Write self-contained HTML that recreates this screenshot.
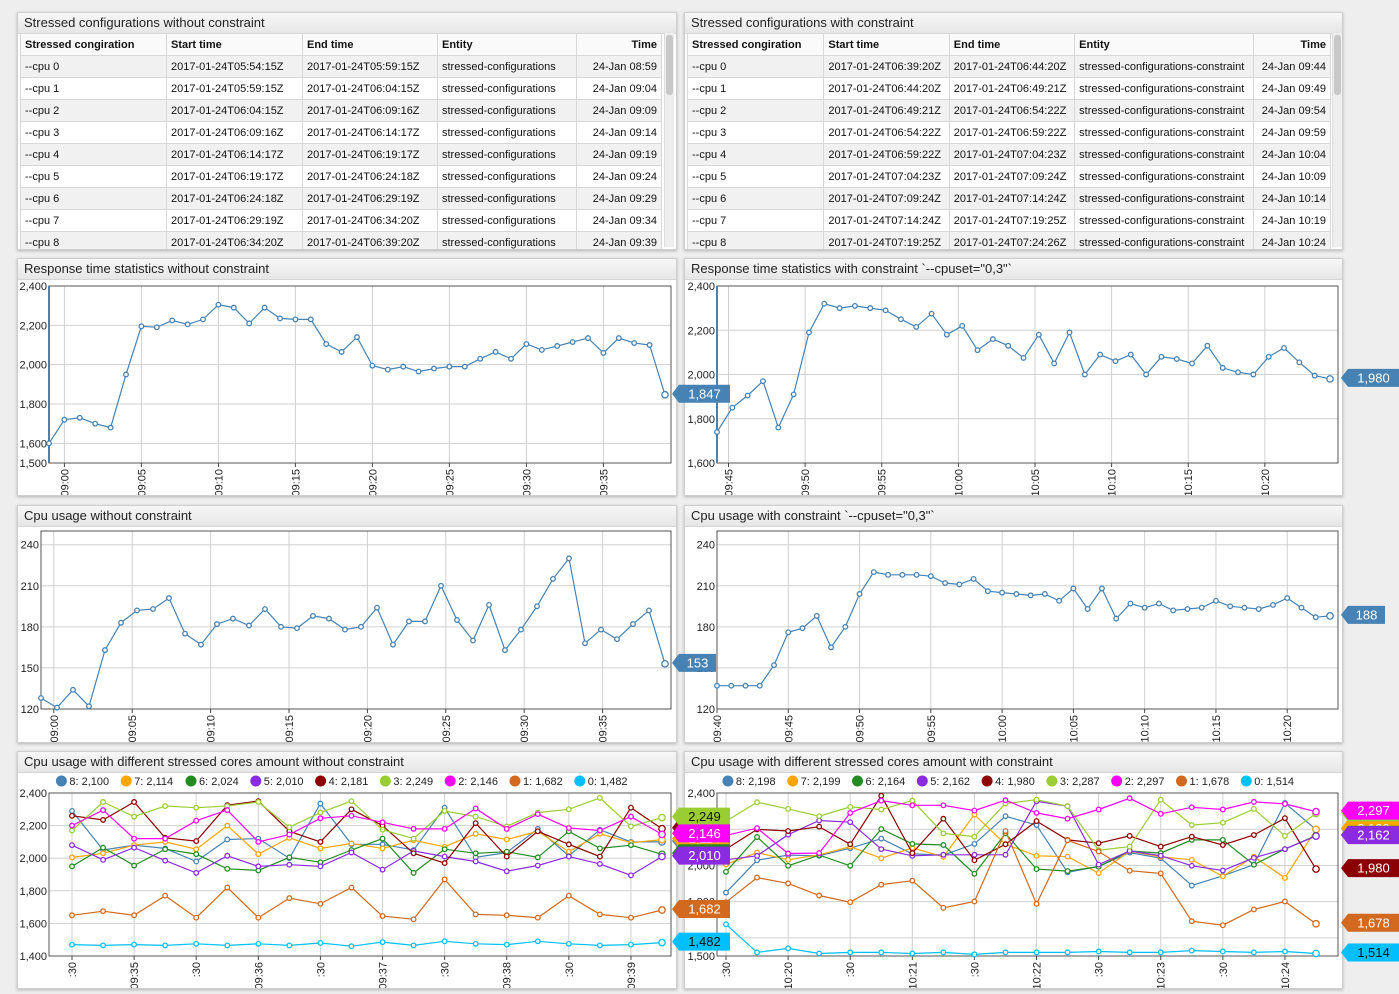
<!DOCTYPE html>
<html><head><meta charset="utf-8">
<style>
body{margin:0;width:1399px;height:994px;background:#eeeeee;font-family:"Liberation Sans",sans-serif;position:relative;overflow:hidden}
.panel{position:absolute;background:#fff;border:1px solid #cfcfcf;box-shadow:0 1px 3px rgba(0,0,0,.25);overflow:hidden}
.ttl{height:20px;line-height:20px;padding-left:6px;font-size:13px;color:#222;background:linear-gradient(#f7f7f7,#e6e6e6);border-bottom:1px solid #d5d5d5}
table{position:absolute;left:2px;top:20px;border-collapse:collapse;font-size:11px;color:#111}
td,th{height:21px;padding:0 4px;border:1px solid #d8d8d8;white-space:nowrap;text-align:left}
th{font-weight:bold;background:#fafafa}
tr:nth-child(even) td{background:#f1f1f1}
.r{text-align:right}
.sb{position:absolute;top:20px;width:9px;bottom:2px;background:#eee;border-left:1px solid #ddd}
.sb div{position:absolute;left:1px;right:1px;top:2px;height:60px;background:#c8c8c8;border-radius:3px}
svg text{font-family:"Liberation Sans",sans-serif}
</style></head><body>

<div class="panel" style="left:17px;top:12px;width:658px;height:236px">
<div class="ttl">Stressed configurations without constraint</div>
<table id="tL" style="width:642px"></table>
<div class="sb" style="left:646px"><div></div></div>
</div>
<div class="panel" style="left:684px;top:12px;width:657px;height:236px">
<div class="ttl">Stressed configurations with constraint</div>
<table id="tR" style="width:644px"></table>
<div class="sb" style="left:647px"><div></div></div>
</div>

<div class="panel" style="left:17px;top:258px;width:658px;height:236px"><div class="ttl">Response time statistics without constraint</div><svg id="c1" width="658" height="236" style="position:absolute;left:0;top:0"></svg></div>
<div class="panel" style="left:684px;top:258px;width:657px;height:236px"><div class="ttl">Response time statistics with constraint `--cpuset="0,3"`</div><svg id="c2" width="657" height="236" style="position:absolute;left:0;top:0"></svg></div>
<div class="panel" style="left:17px;top:505px;width:658px;height:236px"><div class="ttl">Cpu usage without constraint</div><svg id="c3" width="658" height="236" style="position:absolute;left:0;top:0"></svg></div>
<div class="panel" style="left:684px;top:505px;width:657px;height:236px"><div class="ttl">Cpu usage with constraint `--cpuset="0,3"`</div><svg id="c4" width="657" height="236" style="position:absolute;left:0;top:0"></svg></div>
<div class="panel" style="left:17px;top:751px;width:658px;height:236px"><div class="ttl">Cpu usage with different stressed cores amount without constraint</div><svg id="c5" width="658" height="236" style="position:absolute;left:0;top:0"></svg></div>
<div class="panel" style="left:684px;top:751px;width:657px;height:236px"><div class="ttl">Cpu usage with different stressed cores amount with constraint</div><svg id="c6" width="657" height="236" style="position:absolute;left:0;top:0"></svg></div>

<svg id="ov" width="1399" height="994" style="position:absolute;left:0;top:0;pointer-events:none"></svg>

<script>
// ---- table data ----
const cpusL = ["--cpu 0","--cpu 1","--cpu 2","--cpu 3","--cpu 4","--cpu 5","--cpu 6","--cpu 7","--cpu 8"];
const startL = ["05:54:15","05:59:15","06:04:15","06:09:16","06:14:17","06:19:17","06:24:18","06:29:19","06:34:20"];
const endL = ["05:59:15","06:04:15","06:09:16","06:14:17","06:19:17","06:24:18","06:29:19","06:34:20","06:39:20"];
const timeL = ["08:59","09:04","09:09","09:14","09:19","09:24","09:29","09:34","09:39"];
const startR = ["06:39:20","06:44:20","06:49:21","06:54:22","06:59:22","07:04:23","07:09:24","07:14:24","07:19:25"];
const endR = ["06:44:20","06:49:21","06:54:22","06:59:22","07:04:23","07:09:24","07:14:24","07:19:25","07:24:26"];
const timeR = ["09:44","09:49","09:54","09:59","10:04","10:09","10:14","10:19","10:24"];

// ---- response time ----
const respNoVals = [1600,1720,1730,1700,1680,1950,2195,2190,2225,2205,2230,2305,2290,2210,2290,2235,2230,2230,2105,2065,2140,1995,1975,1990,1965,1980,1990,1990,2030,2065,2030,2105,2075,2095,2115,2135,2060,2135,2110,2100,1847];
const respNoTicks = ["09:00","09:05","09:10","09:15","09:20","09:25","09:30","09:35"];
const respNoTickIdx = [1,6,11,16,21,26,31,36];
const respCVals = [1740,1850,1905,1970,1760,1910,2190,2320,2300,2310,2300,2290,2250,2215,2275,2180,2220,2110,2160,2130,2075,2180,2050,2190,2000,2090,2060,2090,2000,2080,2070,2050,2130,2030,2010,2000,2080,2120,2055,1995,1980];
const respCTicks = ["09:45","09:50","09:55","10:00","10:05","10:10","10:15","10:20"];
const respCTickIdx = [0.75,5.75,10.75,15.75,20.75,25.75,30.75,35.75];

// ---- cpu ----
const cpuNoVals = [128,121,134,122,163,183,192,193,201,175,167,182,186,181,193,180,179,188,186,178,180,194,167,184,184,210,185,170,196,163,178,195,215,230,168,178,171,182,192,153];
const cpuNoTicks = ["09:00","09:05","09:10","09:15","09:20","09:25","09:30","09:35"];
const cpuNoTickIdx = [0.8,5.7,10.6,15.5,20.4,25.3,30.2,35.1];
const cpuCVals = [137,137,137,137,152,176,179,188,165,180,204,220,218,218,218,217,212,211,215,206,205,204,203,204,199,208,193,208,186,197,194,197,192,193,194,199,195,194,193,196,201,194,187,188];
const cpuCTicks = ["09:40","09:45","09:50","09:55","10:00","10:05","10:10","10:15","10:20"];
const cpuCTickIdx = [0,5,10,15,20,25,30,35,40];

// ---- cores (without constraint) ----
const coreNames = ["8","7","6","5","4","3","2","1","0"];
const coreColors = ["#4682b4","#ffa500","#228b22","#8a2be2","#8b0000","#9acd32","#ff00ff","#d2691e","#00bfff"];
const coresNo8 = [2290,2050,2080,2060,1980,2115,2120,2000,2335,2085,2085,2050,2310,2005,2035,2180,2015,2175,2100,2100];
const coresNo7 = [2005,2030,2080,2100,2055,2200,2025,2125,2060,2090,2060,2110,2070,2150,2115,2165,2040,2150,2095,2114];
const coresNo6 = [1950,2065,1955,2055,2025,1935,1925,2005,1975,2050,2120,1910,2055,2030,2040,2005,2165,2060,2080,2024];
const coresNo5 = [2080,1990,2065,1985,1910,2015,1950,1960,1950,2035,1930,2045,2010,1980,1920,1955,2010,1965,1895,2010];
const coresNo4 = [2260,2235,2345,2125,2105,2325,2350,2165,2100,2300,2200,2030,1970,2215,2010,2165,2085,2010,2310,2181];
const coresNo3 = [2170,2345,2255,2320,2310,2320,2345,2190,2280,2350,2175,2120,2290,2255,2195,2280,2300,2370,2195,2249];
const coresNo2 = [2200,2295,2120,2120,2230,2295,2100,2145,2245,2260,2220,2180,2180,2305,2180,2270,2185,2170,2255,2146];
const coresNo1 = [1650,1675,1650,1770,1635,1820,1635,1755,1720,1820,1645,1625,1870,1655,1650,1635,1770,1655,1635,1682];
const coresNo0 = [1470,1465,1470,1465,1475,1465,1475,1465,1480,1460,1485,1465,1490,1475,1470,1490,1475,1465,1470,1482];
const coresNoTicks = [":30","09:35",":30","09:36",":30","09:37",":30","09:38",":30","09:39"];
const coresTickIdx = [0,2,4,6,8,10,12,14,16,18];

// ---- cores (with constraint) ----
const coresC8 = [1850,2029,2057,2053,2095,2148,2064,2057,2119,2272,2223,1962,1995,2071,2040,1889,1943,2004,2345,2198];
const coresC7 = [2006,2071,2031,2059,2104,2040,2097,2048,2281,2117,2053,2049,1958,2079,2048,2031,1940,2049,1931,2199];
const coresC6 = [1965,2157,1998,2057,1998,2201,2119,2113,1954,2177,1980,1969,1993,2080,2068,2141,2141,2004,2090,2164];
const coresC5 = [2031,2053,2170,2248,2239,2090,2053,2059,2059,2059,2354,2327,2005,2080,2054,1998,1972,2042,2090,2162];
const coresC4 = [2090,2199,2190,2214,2117,2385,2068,2258,2029,2117,2245,2141,2123,2163,2104,2159,2113,2168,2261,1980];
const coresC3 = [2245,2349,2312,2272,2323,2309,2358,2177,2159,2342,2363,2327,2084,2104,2363,2223,2236,2312,2163,2287];
const coresC2 = [2166,2206,2066,2068,2290,2358,2332,2332,2303,2360,2290,2258,2309,2371,2285,2321,2309,2351,2340,2297];
const coresC1 = [1797,1933,1901,1834,1797,1894,1916,1766,1801,2190,1788,2139,2077,1971,1956,1692,1670,1757,1801,1678];
const coresC0 = [1675,1520,1542,1514,1520,1520,1514,1520,1509,1520,1520,1520,1525,1520,1520,1530,1525,1520,1525,1514];
const coresCTicks = [":30","10:20",":30","10:21",":30","10:22",":30","10:23",":30","10:24"];

const NS="http://www.w3.org/2000/svg";
function mk(tag,attrs,parent){const e=document.createElementNS(NS,tag);for(const k in attrs)e.setAttribute(k,attrs[k]);parent.appendChild(e);return e;}
const fmt=v=>v.toLocaleString("en-US");

function buildTable(id,starts,ends,times,entity,widths){
  const t=document.getElementById(id);
  let h='<tr>'+['Stressed congiration','Start time','End time','Entity','Time'].map((s,i)=>`<th style="width:${widths[i]}px"${i==4?' class="r"':''}>${s}</th>`).join('')+'</tr>';
  for(let i=0;i<cpusL.length;i++){
    h+=`<tr><td>${cpusL[i]}</td><td>2017-01-24T${starts[i]}Z</td><td>2017-01-24T${ends[i]}Z</td><td>${entity}</td><td class="r">24-Jan ${times[i]}</td></tr>`;
  }
  t.innerHTML=h;
}
buildTable('tL',startL,endL,timeL,'stressed-configurations',[137,127,126,130,76]);
buildTable('tR',startR,endR,timeR,'stressed-configurations-constraint',[127,116,116,169,68]);

const ov=document.getElementById('ov');
function badge(x,y,val,color,txt){
  const g=mk('g',{},ov);
  
  
  const w=txt.length>3?58:44;
  mk('polygon',{points:`${x},${y} ${x+7},${y-9} ${x+w},${y-9} ${x+w},${y+9} ${x+7},${y+9}`,fill:color},g);
  const dark=(color=="#00bfff"||color=="#9acd32");
  const t=mk('text',{x:x+7+(w-7)/2,y:y+4.5,'text-anchor':'middle','font-size':13,fill:dark?'#111':'#fff'},g);
  t.textContent=txt;
}

function chart(o){
  const svg=document.getElementById(o.id);
  const g=mk('g',{transform:`translate(${-o.px},${-o.py})`},svg);
  const sy=v=>o.pb-(v-o.ymin)/(o.ymax-o.ymin)*(o.pb-o.pt);
  const n=o.series[0].vals.length;
  const sx=i=>o.x0+i*(o.x1-o.x0)/(n-1);
  o.yticks.forEach(v=>{
    const y=sy(v);
    mk('line',{x1:o.pl,x2:o.pr,y1:y,y2:y,stroke:'#d0d0d0'},g);
    const t=mk('text',{x:o.pl-2,y:y+4,'text-anchor':'end','font-size':11,fill:'#222'},g);
    t.textContent=fmt(v);
  });
  o.xticks.forEach((lab,k)=>{
    const x=sx(o.xtickIdx[k]);
    mk('line',{x1:x,x2:x,y1:o.pt,y2:o.pb,stroke:'#d0d0d0'},g);
    mk('line',{x1:x,x2:x,y1:o.pb,y2:o.pb+4,stroke:'#444'},g);
    const t=mk('text',{x:0,y:0,transform:`translate(${x+4},${o.pb+6}) rotate(-90)`,'text-anchor':'end','font-size':11,fill:'#222'},g);
    t.textContent=lab;
  });
  mk('rect',{x:o.pl,y:o.pt,width:o.pr-o.pl,height:o.pb-o.pt,fill:'none',stroke:'#555'},g);
  if(o.blueAxis) mk('line',{x1:o.pl,x2:o.pl,y1:o.pt,y2:o.pb,stroke:'#4682b4','stroke-width':2},g);
  o.series.forEach(s=>{
    const p=mk('path',{d:s.vals.map((v,i)=>(i?'L':'M')+sx(i).toFixed(1)+','+sy(v).toFixed(1)).join(''),fill:'none',stroke:s.color,'stroke-width':1.2},g);
    
    
    s.vals.forEach((v,i)=>{
      const c=mk('circle',{cx:sx(i),cy:sy(v),r:(i==n-1?3.2:2.3),fill:'#fff',stroke:s.color,'stroke-width':1.3},g);
      
      
    });
  });
  if(o.legend){
    const lg=mk('g',{},g);
    
    
    let items=o.series.map(s=>s.name+': '+fmt(s.vals[n-1]));
    const widths=items.map(t=>t.length*6.1+16);
    const tot=widths.reduce((a,b)=>a+b,0);
    let x=o.px+(o.pw-tot)/2;
    items.forEach((t,k)=>{
      const e=mk('g',{},lg);
      
      
      mk('circle',{cx:x+6,cy:o.legendY,r:5.5,fill:o.series[k].color},e);
      const tx=mk('text',{x:x+14,y:o.legendY+4,'font-size':11,fill:'#222'},e);
      tx.textContent=t;
      x+=widths[k];
    });
  }
  if(o.badgeX!==undefined){
    o.series.forEach(s=>badge(o.badgeX,sy(s.vals[n-1]),s.vals[n-1],s.color,fmt(s.vals[n-1])));
  }
}

chart({id:'c1',px:17,py:258,pw:658,pl:48,pr:670,pt:285,pb:462,ymin:1500,ymax:2400,yticks:[1500,1600,1800,2000,2200,2400],
  x0:48,x1:664,xticks:respNoTicks,xtickIdx:respNoTickIdx,blueAxis:true,series:[{vals:respNoVals,color:'#4682b4'}],badgeX:672});
chart({id:'c2',px:684,py:258,pw:657,pl:716,pr:1337,pt:285,pb:462,ymin:1600,ymax:2400,yticks:[1600,1800,2000,2200,2400],
  x0:716,x1:1329,xticks:respCTicks,xtickIdx:respCTickIdx,blueAxis:true,series:[{vals:respCVals,color:'#4682b4'}],badgeX:1341});
chart({id:'c3',px:17,py:505,pw:658,pl:40,pr:670,pt:530,pb:708,ymin:120,ymax:250,yticks:[120,150,180,210,240],
  x0:40,x1:664,xticks:cpuNoTicks,xtickIdx:cpuNoTickIdx,series:[{vals:cpuNoVals,color:'#4682b4'}],badgeX:672});
chart({id:'c4',px:684,py:505,pw:657,pl:716,pr:1337,pt:530,pb:708,ymin:120,ymax:250,yticks:[120,150,180,210,240],
  x0:716,x1:1329,xticks:cpuCTicks,xtickIdx:cpuCTickIdx,series:[{vals:cpuCVals,color:'#4682b4'}],badgeX:1341});
const noSets=[coresNo8,coresNo7,coresNo6,coresNo5,coresNo4,coresNo3,coresNo2,coresNo1,coresNo0];
const cSets=[coresC8,coresC7,coresC6,coresC5,coresC4,coresC3,coresC2,coresC1,coresC0];
chart({id:'c5',px:17,py:751,pw:658,pl:48,pr:670,pt:792,pb:955,ymin:1400,ymax:2400,yticks:[1400,1600,1800,2000,2200,2400],
  x0:71,x1:661,xticks:coresNoTicks,xtickIdx:coresTickIdx,legend:true,legendY:780,
  series:noSets.map((v,k)=>({vals:v,color:coreColors[k],name:coreNames[k]})),badgeX:672});
chart({id:'c6',px:684,py:751,pw:657,pl:716,pr:1337,pt:792,pb:955,ymin:1500,ymax:2400,yticks:[1500,1600,1800,2000,2200,2400],
  x0:725,x1:1315,xticks:coresCTicks,xtickIdx:coresTickIdx,legend:true,legendY:780,
  series:cSets.map((v,k)=>({vals:v,color:coreColors[k],name:coreNames[k]})),badgeX:1341});
</script>
</body></html>
